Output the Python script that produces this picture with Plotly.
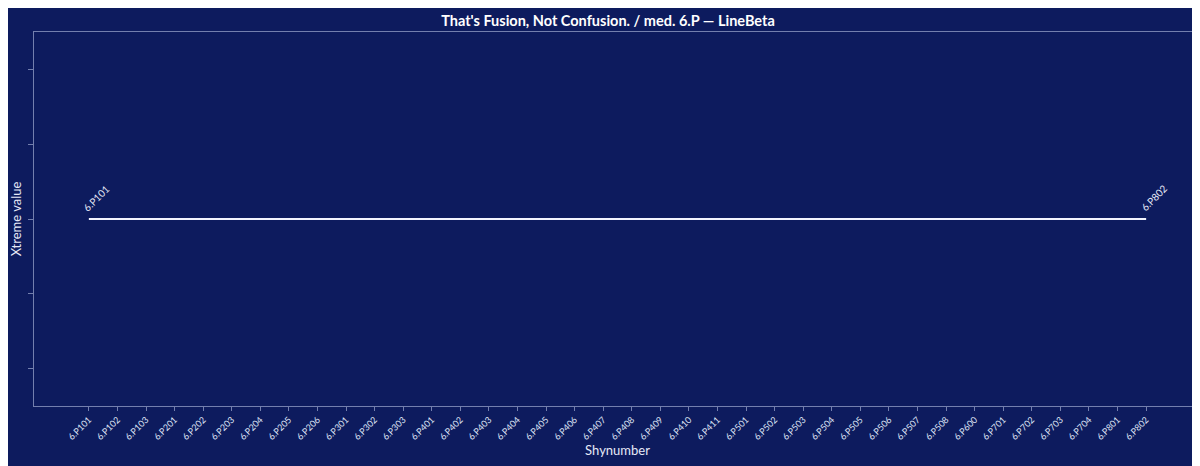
import plotly.graph_objects as go

categories = ["6.P101", "6.P102", "6.P103", "6.P201", "6.P202", "6.P203", "6.P204", "6.P205",
              "6.P206", "6.P301", "6.P302", "6.P303", "6.P401", "6.P402", "6.P403", "6.P404",
              "6.P405", "6.P406", "6.P407", "6.P408", "6.P409", "6.P410", "6.P411", "6.P501",
              "6.P502", "6.P503", "6.P504", "6.P505", "6.P506", "6.P507", "6.P508", "6.P600",
              "6.P701", "6.P702", "6.P703", "6.P704", "6.P801", "6.P802"]
values = [0] * len(categories)
labelled = ["6.P101", "6.P802"]

BG = "#0d1b5e"
FONT = "Source Sans Pro, Lato, sans-serif"
AX = "rgba(200,210,240,0.55)"

fig = go.Figure()
fig.add_trace(go.Scatter(
    x=categories, y=values, mode="lines",
    line=dict(color="#f2f4ff", width=2.2),
    hoverinfo="skip", showlegend=False,
))

for c, v in zip(categories, values):
    if c in labelled:
        fig.add_annotation(x=c, y=v, text=c, showarrow=False, textangle=-45,
                           xanchor="left", yanchor="bottom", xshift=-11, yshift=3,
                           font=dict(family=FONT, size=10, color="#e6e9f7"))

fig.update_layout(
    width=1200, height=466,
    paper_bgcolor=BG, plot_bgcolor=BG,
    margin=dict(l=26, r=7, t=24, b=68, autoexpand=False),
    font=dict(family=FONT, color="#e6e9f7"),
    title=dict(text="<b>That's Fusion, Not Confusion. / med. 6.P — LineBeta</b>",
               x=0.5, xanchor="center", y=0.972, yanchor="middle",
               font=dict(size=14.5, color="#ffffff", family=FONT)),
    xaxis=dict(
        title=dict(text="Shynumber", font=dict(size=13, color="#e6e9f7"), standoff=4),
        automargin=False,
        type="category", range=[-1.92, len(categories) - 1 + 1.92],
        tickangle=-45, tickfont=dict(size=9, color="#dfe3f5"),
        ticks="outside", ticklen=4, tickcolor=AX, tickwidth=1,
        showgrid=False, zeroline=False,
        showline=True, linecolor=AX, linewidth=1, mirror=True,
    ),
    yaxis=dict(
        title=dict(text="Xtreme value", font=dict(size=13, color="#e6e9f7"), standoff=7),
        automargin=False,
        range=[-1.25, 1.25], tickvals=[-1, -0.5, 0, 0.5, 1],
        showticklabels=False,
        ticks="outside", ticklen=5, tickcolor=AX, tickwidth=1,
        showgrid=False, zeroline=False,
        showline=True, linecolor=AX, linewidth=1, mirror=True,
    ),
)

fig.write_html("out.html")
